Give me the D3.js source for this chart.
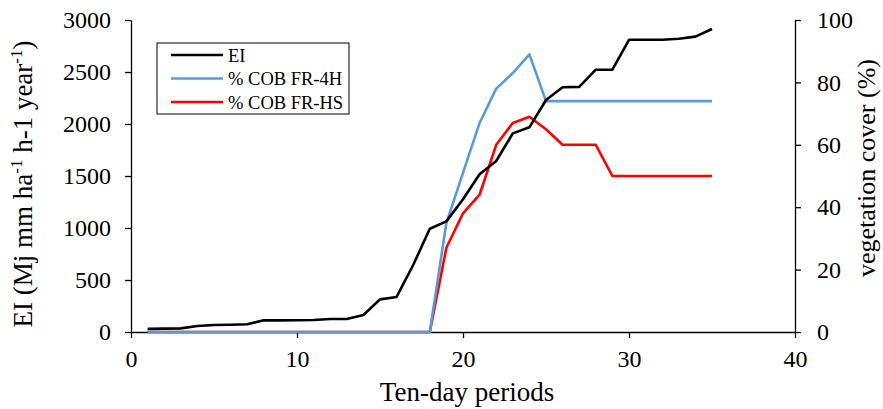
<!DOCTYPE html>
<html>
<head>
<meta charset="utf-8">
<script src="https://cdn.jsdelivr.net/npm/d3@7"></script>
<style>
  html, body { margin: 0; padding: 0; background: #fff; }
  svg { display: block; }
  svg text { font-family: "Liberation Serif", "Times New Roman", serif; fill: #000; }
</style>
</head>
<body>
<svg id="chart" width="883" height="409"></svg>
<script>
// Ten-day periods (x) shared by all series
const periods = d3.range(1, 36);

// Erosivity index EI, cumulative (left axis)
const eiValues = [30, 32, 35, 58, 67, 70, 74, 112, 112, 113, 115, 125, 125, 163, 314, 337, 644, 993, 1064, 1276,
                  1516, 1644, 1910, 1968, 2231, 2353, 2357, 2522, 2522, 2810, 2810, 2810, 2820, 2840, 2913];

// Vegetation cover (%) for the two plots (right axis)
const cover4H = [0, 0, 0, 0, 0, 0, 0, 0, 0, 0, 0, 0, 0, 0, 0, 0, 0, 0, 35, 51,
                 67, 78, 83, 89, 74, 74, 74, 74, 74, 74, 74, 74, 74, 74, 74];
const coverHS = [0, 0, 0, 0, 0, 0, 0, 0, 0, 0, 0, 0, 0, 0, 0, 0, 0, 0, 27, 38,
                 44, 60, 67, 69, 65, 60, 60, 60, 50, 50, 50, 50, 50, 50, 50];

const seriesNames = ["EI", "% COB FR-4H", "% COB FR-HS"];
const seriesColors = ["#000000", "#5B9BD5", "#FF0000"];

const xTicks = [0, 10, 20, 30, 40];
const yLeftTicks = [0, 500, 1000, 1500, 2000, 2500, 3000];
const yRightTicks = [0, 20, 40, 60, 80, 100];

const svg = d3.select("#chart");
const m = { left: 131, right: 795, top: 20, bottom: 332 };

const x = d3.scaleLinear().domain([0, 40]).range([m.left, m.right]);
const yL = d3.scaleLinear().domain([0, 3000]).range([m.bottom, m.top]);
const yR = d3.scaleLinear().domain([0, 100]).range([m.bottom, m.top]);

const tickFont = 24;
const titleFont = 27;
const fmt = d3.format("d");

function styleAxis(g) {
  g.attr("font-family", null).attr("font-size", null);
  g.selectAll("path.domain").attr("stroke", "#000").attr("stroke-width", 1.3);
  g.selectAll(".tick line").attr("stroke", "#000").attr("stroke-width", 1.3);
  g.selectAll(".tick text").style("font-size", tickFont + "px").attr("fill", "#000");
}

// Axes
svg.append("g").attr("transform", `translate(0,${m.bottom})`)
  .call(d3.axisBottom(x).tickValues(xTicks).tickFormat(fmt).tickSize(6).tickSizeOuter(0).tickPadding(12))
  .call(styleAxis);
svg.append("g").attr("transform", `translate(${m.left},0)`)
  .call(d3.axisLeft(yL).tickValues(yLeftTicks).tickFormat(fmt).tickSize(6).tickSizeOuter(0).tickPadding(14))
  .call(styleAxis);
svg.append("g").attr("transform", `translate(${m.right},0)`)
  .call(d3.axisRight(yR).tickValues(yRightTicks).tickFormat(fmt).tickSize(6).tickSizeOuter(0).tickPadding(16))
  .call(styleAxis);

// Lines
const lineL = d3.line().x((d, i) => x(periods[i])).y(d => yL(d));
const lineR = d3.line().x((d, i) => x(periods[i])).y(d => yR(d));

const plotted = [
  { values: coverHS, gen: lineR, color: seriesColors[2] },
  { values: cover4H, gen: lineR, color: seriesColors[1] },
  { values: eiValues, gen: lineL, color: seriesColors[0] }
];
plotted.forEach(s => {
  svg.append("path").datum(s.values)
    .attr("fill", "none").attr("stroke", s.color)
    .attr("stroke-width", 2.6).attr("stroke-linejoin", "round")
    .attr("d", s.gen);
});

// Axis titles
svg.append("text").attr("x", 467).attr("y", 401)
  .attr("text-anchor", "middle").style("font-size", titleFont + "px").text("Ten-day periods");

const leftTitle = svg.append("text")
  .attr("transform", `translate(32,184) rotate(-90)`)
  .attr("text-anchor", "middle").style("font-size", titleFont + "px");
leftTitle.append("tspan").text("EI (Mj mm ha");
leftTitle.append("tspan").attr("dy", -10).style("font-size", "17px").text("-1");
leftTitle.append("tspan").attr("dy", 10).text(" h-1 year");
leftTitle.append("tspan").attr("dy", -10).style("font-size", "17px").text("-1");
leftTitle.append("tspan").attr("dy", 10).text(")");

svg.append("text")
  .attr("transform", `translate(875,168) rotate(-90)`)
  .attr("text-anchor", "middle").style("font-size", "26px").text("vegetation cover (%)");

// Legend
const lg = svg.append("g").attr("transform", "translate(157,43)");
lg.append("rect").attr("width", 192).attr("height", 71)
  .attr("fill", "#fff").attr("stroke", "#000").attr("stroke-width", 1);
seriesNames.forEach((name, i) => {
  const yy = 12 + i * 23.5;
  lg.append("line").attr("x1", 14).attr("x2", 66).attr("y1", yy).attr("y2", yy)
    .attr("stroke", seriesColors[i]).attr("stroke-width", 2.6);
  lg.append("text").attr("x", 71).attr("y", yy + 6.5).style("font-size", "18.5px").text(name);
});
</script>
</body>
</html>
